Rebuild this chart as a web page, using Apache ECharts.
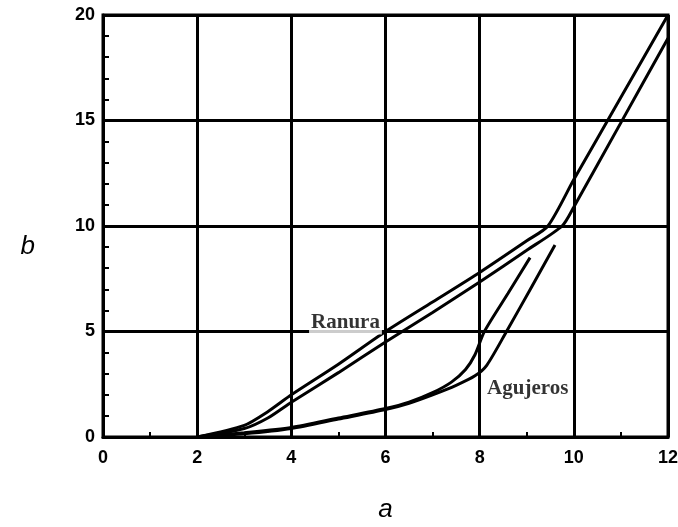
<!DOCTYPE html>
<html>
<head>
<meta charset="utf-8">
<script src="https://cdn.jsdelivr.net/npm/echarts@6/dist/echarts.min.js"></script>
<style>
  html, body { margin: 0; padding: 0; background: #fff; }
  #chart { width: 678px; height: 527px; }
</style>
</head>
<body>
<div id="chart"></div>
<script>
// curve points, [a, b]
const ranuraUpper = [[2, 0], [3, 0.55], [3.5, 1.2], [4, 2.0], [5, 3.45], [6, 5.0], [7, 6.4], [8, 7.8], [9, 9.3], [9.45, 10.0], [10, 12.2], [11, 16.1], [12, 20]];
const ranuraLower = [[2, 0], [3, 0.4], [3.5, 0.9], [4, 1.65], [5, 3.05], [6, 4.5], [7, 5.9], [8, 7.35], [9, 8.85], [9.75, 10.0], [10, 10.9], [11, 14.9], [12, 18.9]];
const agujerosUpper = [[2, 0], [3, 0.2], [4, 0.45], [5, 0.9], [6, 1.35], [6.5, 1.65], [7, 2.1], [7.4, 2.6], [7.7, 3.2], [7.9, 3.9], [8.1, 5.0], [8.6, 6.8], [9.07, 8.5]];
const agujerosLower = [[2, 0], [3, 0.15], [4, 0.4], [5, 0.85], [6, 1.3], [6.5, 1.6], [7, 2.0], [7.5, 2.45], [7.9, 2.9], [8.15, 3.4], [8.57, 5.0], [9.1, 7.1], [9.6, 9.1]];
const curveLabels = [{ name: 'Ranura', value: [5.15, 5.4] }, { name: 'Agujeros', value: [9.02, 2.3] }];
const xTicks = [0, 2, 4, 6, 8, 10, 12];
const yTicks = [0, 5, 10, 15, 20];

const myChart = echarts.init(document.getElementById('chart'));

function curve(points) {
    return {
        type: 'line',
        data: points,
        smooth: 0.25,
        symbol: 'none',
        lineStyle: { color: '#000', width: 3 },
        z: 3
    };
}

const tickFont = { color: '#000', fontFamily: 'Liberation Sans', fontWeight: 'bold', fontSize: 18 };
const nameFont = { color: '#000', fontFamily: 'Liberation Sans', fontStyle: 'italic', fontSize: 26 };

const option = {
    animation: false,
    backgroundColor: '#fff',
    grid: {
        left: 103, right: 10, top: 15, bottom: 90,
        outerBoundsMode: 'none',
        show: true, borderColor: '#000', borderWidth: 3
    },
    xAxis: {
        type: 'value',
        min: xTicks[0], max: xTicks[xTicks.length - 1], interval: 2,
        name: 'a',
        nameLocation: 'middle',
        nameGap: 60,
        nameTextStyle: nameFont,
        axisLine: { lineStyle: { color: '#000', width: 3 } },
        axisTick: { show: false, inside: true },
        minorTick: { show: true, splitNumber: 2, length: 5, lineStyle: { color: '#000', width: 2 } },
        axisLabel: Object.assign({ margin: 12 }, tickFont),
        splitLine: { show: true, lineStyle: { color: '#000', width: 3 } }
    },
    yAxis: {
        type: 'value',
        min: yTicks[0], max: yTicks[yTicks.length - 1], interval: 5,
        name: 'b',
        nameLocation: 'middle',
        nameGap: 68,
        nameRotate: 0,
        nameTextStyle: Object.assign({ verticalAlign: 'top', lineHeight: 42 }, nameFont),
        axisLine: { lineStyle: { color: '#000', width: 3 } },
        axisTick: { show: false, inside: true },
        minorTick: { show: true, splitNumber: 5, length: 6, lineStyle: { color: '#000', width: 2 } },
        axisLabel: Object.assign({ margin: 8 }, tickFont),
        splitLine: { show: true, lineStyle: { color: '#000', width: 3 } }
    },
    series: [
        curve(ranuraUpper),
        curve(ranuraLower),
        curve(agujerosUpper),
        curve(agujerosLower),
        {
            type: 'scatter',
            data: curveLabels,
            symbolSize: 0,
            z: 5,
            label: {
                show: true,
                position: 'inside',
                formatter: '{b}',
                color: '#000',
                fontFamily: 'Liberation Serif',
                fontWeight: 'bold',
                fontSize: 21,
                backgroundColor: '#fff',
                padding: [1, 2]
            }
        }
    ]
};

myChart.setOption(option);
</script>
</body>
</html>
